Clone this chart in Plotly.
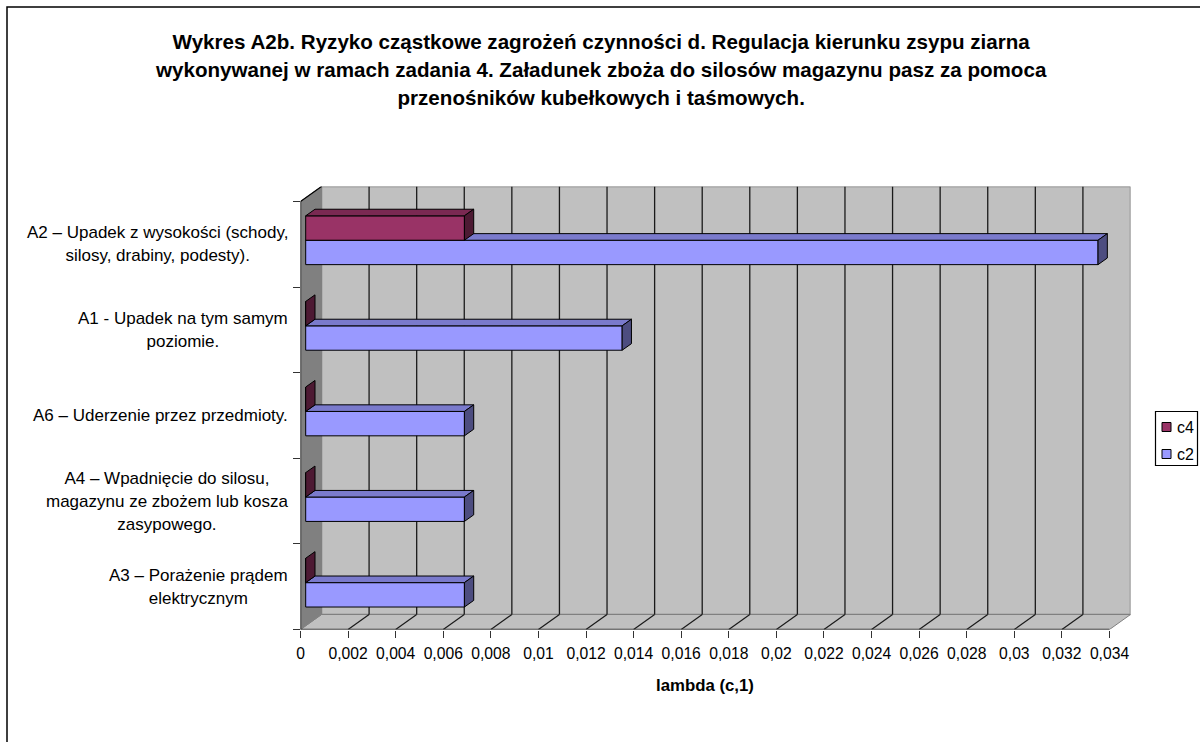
import plotly.graph_objects as go

# ---- data ----
categories = ["A3 – Porażenie prądem<br>elektrycznym",
              "A4 – Wpadnięcie do silosu,<br>magazynu ze zbożem lub kosza<br>zasypowego.",
              "A6 – Uderzenie przez przedmioty.",
              "A1 - Upadek na tym samym<br>poziomie.",
              "A2 – Upadek z wysokości (schody,<br>silosy, drabiny, podesty)."]
c2_values = [0.00667, 0.00667, 0.00667, 0.0133, 0.0333]
c4_values = [0, 0, 0, 0, 0.00667]
tick_values = [0, 0.002, 0.004, 0.006, 0.008, 0.01, 0.012, 0.014, 0.016, 0.018,
               0.02, 0.022, 0.024, 0.026, 0.028, 0.03, 0.032, 0.034]
tick_labels = ["0", "0,002", "0,004", "0,006", "0,008", "0,01", "0,012", "0,014", "0,016",
               "0,018", "0,02", "0,022", "0,024", "0,026", "0,028", "0,03", "0,032", "0,034"]
title_text = ("Wykres A2b. Ryzyko cząstkowe zagrożeń czynności d. Regulacja kierunku zsypu ziarna<br>"
              "wykonywanej w ramach zadania 4. Załadunek zboża do silosów magazynu pasz za pomoca<br>"
              "przenośników kubełkowych i taśmowych.")
x_title = "lambda (c,1)"

# ---- layout geometry (pixels of a 1200x742 page) ----
W, H = 1200, 742
FONT = "Liberation Sans, Arial, sans-serif"
PX0, PX1_FRONT, PX1 = 300.5, 1109.5, 1130.5
PY0, PY1_FRONT, PY1 = 629.5, 201.5, 186.5
x_unit = (PX1_FRONT - PX0) / 0.034          # px per data unit
y_unit = (PY0 - PY1_FRONT) / 5              # px per category
xmax = (PX1 - PX0) / x_unit
ymax = (PY0 - PY1) / y_unit
WALL_DX = (PX1 - PX1_FRONT) / x_unit
WALL_DY = (PY1_FRONT - PY1) / y_unit
BAR_X0 = 5.2 / x_unit
BAR_DX = 9.3 / x_unit
BAR_DY = 6.6 / y_unit
BAR_H = 24.4 / y_unit
C2_OFF = -0.095
C4_OFF = C2_OFF + BAR_H
OUT = "#000000"


def px(x):
    return x / W


def py(y):
    return 1 - y / H


def poly(xs, ys, fill, line="#000000", width=1, xa="x", ya="y"):
    return go.Scatter(x=xs + xs[:1], y=ys + ys[:1], mode="lines", fill="toself", fillcolor=fill,
                      line=dict(color=line, width=width), hoverinfo="skip", showlegend=False,
                      xaxis=xa, yaxis=ya)


def add_series(fig, name, values, offset, front, top, side, xa, ya):
    ys = [i + 0.5 + offset for i in range(len(values))]
    fig.add_trace(go.Bar(name=name, y=ys, x=values, base=[BAR_X0] * len(values), orientation="h",
                         width=BAR_H, marker=dict(color=front, line=dict(color=OUT, width=1)),
                         showlegend=False, xaxis=xa, yaxis=ya))
    for v, yc in zip(values, ys):
        x0, x1 = BAR_X0, BAR_X0 + v
        yb, yt = yc - BAR_H / 2, yc + BAR_H / 2
        if v > 0:
            fig.add_trace(poly([x0, x1, x1 + BAR_DX, x0 + BAR_DX],
                               [yt, yt, yt + BAR_DY, yt + BAR_DY], top, xa=xa, ya=ya))
        fig.add_trace(poly([x1, x1, x1 + BAR_DX, x1 + BAR_DX],
                           [yb, yt, yt + BAR_DY, yb + BAR_DY], side, xa=xa, ya=ya))


fig = go.Figure()
add_series(fig, "c2", c2_values, C2_OFF, "#9999FF", "#7A7ACC", "#4D4D80", "x", "y")
add_series(fig, "c4", c4_values, C4_OFF, "#993366", "#7A2952", "#4D1A33", "x2", "y2")

shapes = []


def s_poly(points, fill, line, width=1):
    path = "M" + " L".join(f"{a},{b}" for a, b in points) + " Z"
    shapes.append(dict(type="path", path=path, xref="x", yref="y", fillcolor=fill,
                       line=dict(color=line, width=width), layer="below"))


def s_line(x0, y0, x1, y1, color="#000000", width=1.2):
    shapes.append(dict(type="line", x0=x0, y0=y0, x1=x1, y1=y1, xref="x", yref="y",
                       line=dict(color=color, width=width), layer="below"))


# back wall, floor, side wall
s_poly([(WALL_DX, WALL_DY), (xmax, WALL_DY), (xmax, ymax), (WALL_DX, ymax)], "#C0C0C0", "#808080", 1.5)
s_poly([(0, 0), (0.034, 0), (xmax, WALL_DY), (WALL_DX, WALL_DY)], "#C0C0C0", "#808080", 1)
s_poly([(0, 0), (WALL_DX, WALL_DY), (WALL_DX, ymax), (0, 5)], "#808080", "#808080", 1)
# grid lines
for t in tick_values[1:-1]:
    s_line(t + WALL_DX, WALL_DY, t + WALL_DX, ymax, "#1a1a1a", 1.3)
    s_line(t, 0, t + WALL_DX, WALL_DY, "#1a1a1a", 1.2)
# axis lines
s_line(0, 0, 0.034, 0, "#333333", 1.6)
s_line(0, 0, 0, 5, "#333333", 1.6)
s_line(0, 5, WALL_DX, ymax, "#000000", 1.2)

# outer frame (runs past the right and bottom of the page)
shapes.append(dict(type="rect", xref="paper", yref="paper", x0=px(7), x1=px(W + 20),
                   y0=py(H + 20), y1=py(7), line=dict(color="#000000", width=1.5), layer="below"))

# legend
shapes.append(dict(type="rect", xref="paper", yref="paper", x0=px(1155.5), x1=px(1197.5),
                   y0=py(465.5), y1=py(411.5), line=dict(color="#000000", width=1.2),
                   fillcolor="#FFFFFF"))
for y, col in ((427, "#993366"), (454, "#9999FF")):
    shapes.append(dict(type="rect", xref="paper", yref="paper", x0=px(1162), x1=px(1171),
                       y0=py(y + 4.5), y1=py(y - 4.5), line=dict(color="#000000", width=1),
                       fillcolor=col))

annotations = []
LABEL_PX = 17
for i, text in enumerate(categories):
    lines = "<br>".join(f'<span style="font-size:{LABEL_PX}px">{t}</span>' for t in text.split("<br>"))
    annotations.append(dict(x=px(289.5), y=py(PY0 - (i + 0.5) * y_unit), xref="paper", yref="paper",
                            text=lines, showarrow=False, xanchor="right", yanchor="middle",
                            align="center", font=dict(family=FONT, size=17.7, color="#000000")))
for name, y in (("c4", 427), ("c2", 454)):
    annotations.append(dict(x=px(1175), y=py(y), xref="paper", yref="paper", text=name,
                            showarrow=False, xanchor="left", yanchor="middle",
                            font=dict(family=FONT, size=16, color="#000000")))
annotations.append(dict(x=0.017, y=py(685), xref="x", yref="paper", text=f"<b>{x_title}</b>",
                        showarrow=False, xanchor="center", yanchor="middle",
                        font=dict(family=FONT, size=16.8, color="#000000")))
title_lines = "<br>".join(f'<span style="font-size:20.6px">{t}</span>' for t in title_text.split("<br>"))
annotations.append(dict(x=px(600.5), y=py(70), xref="paper", yref="paper",
                        text=f"<b>{title_lines}</b>", showarrow=False, xanchor="center",
                        yanchor="middle", align="center",
                        font=dict(family=FONT, size=21.7, color="#000000")))

domain_x = [px(PX0), px(PX1)]
domain_y = [py(PY0), py(PY1)]
fig.update_layout(
    template=None,
    width=W, height=H, margin=dict(l=0, r=0, t=0, b=0, pad=0), autosize=False,
    paper_bgcolor="#FFFFFF", plot_bgcolor="rgba(0,0,0,0)", barmode="overlay", showlegend=False,
    font=dict(family=FONT, color="#000000"), shapes=shapes, annotations=annotations,
    xaxis=dict(domain=domain_x, range=[0, xmax], tickmode="array", tickvals=tick_values,
               ticktext=tick_labels, ticks="outside", ticklen=7, tickcolor="#333333", tickwidth=1.3,
               tickfont=dict(family=FONT, size=15.7, color="#000000"), tickangle=0, automargin=False,
               ticklabelstandoff=3, showgrid=False, zeroline=False, showline=False),
    yaxis=dict(domain=domain_y, range=[0, ymax], tickmode="array", tickvals=[0, 1, 2, 3, 4, 5],
               ticktext=[""] * 6, ticks="outside", ticklen=7, tickcolor="#333333", tickwidth=1.3,
               automargin=False, showgrid=False, zeroline=False, showline=False),
    xaxis2=dict(domain=domain_x, range=[0, xmax], overlaying="x", visible=False),
    yaxis2=dict(domain=domain_y, range=[0, ymax], overlaying="y", visible=False),
)

fig.write_html("out.html", post_script="document.body.style.margin='0';",
               config={"displayModeBar": False})
